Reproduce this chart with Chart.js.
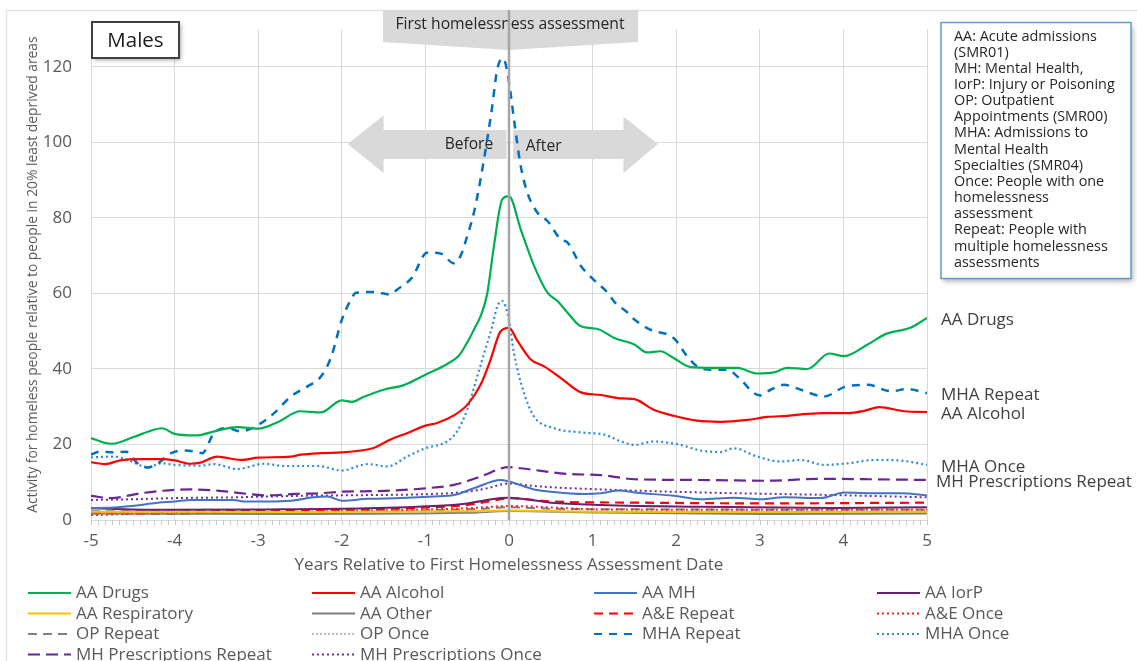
<!DOCTYPE html>
<html lang="en">
<head>
<meta charset="utf-8">
<title>Males - activity relative to 20% least deprived areas</title>
<script src="https://cdn.jsdelivr.net/npm/chart.js@4.4.1/dist/chart.umd.min.js"></script>
<style>
    html, body { margin: 0; padding: 0; background: #ffffff; }
    #grafico { display: block; }
</style>
</head>
<body>
<canvas id="grafico" width="1137" height="661"></canvas>
<script>
// ============================================
// DATA (years relative to first assessment, activity ratio)
// ============================================
const yTicks = [0, 20, 40, 60, 80, 100, 120];
const xTicks = [-5, -4, -3, -2, -1, 0, 1, 2, 3, 4, 5];

const drugsX = [-5, -4.83, -4.75, -4.5, -4.25, -4.15, -4, -3.75, -3.5, -3.25, -3, -2.75, -2.5, -2.25, -2, -1.875, -1.75, -1.5, -1.25, -1, -0.75, -0.6, -0.48, -0.42, -0.34, -0.26, -0.18, -0.08, 0, 0.14, 0.3, 0.46, 0.58, 0.7, 0.86, 1.06, 1.26, 1.5, 1.65, 1.81, 1.97, 2.17, 2.45, 2.73, 2.97, 3.17, 3.33, 3.57, 3.83, 4.01, 4.29, 4.51, 4.8, 5];
const drugsY = [21.7, 20.4, 20.2, 21.9, 23.9, 24.3, 22.8, 22.4, 23.6, 24.6, 24.2, 26.1, 28.8, 28.5, 31.7, 31.3, 32.5, 34.5, 35.8, 38.5, 41.2, 43.5, 47.8, 50.4, 54, 60, 72.6, 85, 85.8, 77, 67.3, 60.2, 58, 54.9, 51.3, 50.6, 48.2, 46.5, 44.4, 44.7, 42.9, 40.5, 40.3, 40.3, 38.8, 39.1, 40.3, 40, 44.1, 43.4, 46.5, 49.3, 50.9, 53.5];

const alcoholX = [-5, -4.83, -4.65, -4.4, -4.16, -4, -3.81, -3.69, -3.49, -3.21, -3, -2.61, -2.49, -2.25, -2, -1.77, -1.63, -1.41, -1.22, -1, -0.86, -0.66, -0.5, -0.34, -0.22, -0.1, 0, 0.1, 0.26, 0.42, 0.62, 0.86, 1.1, 1.3, 1.5, 1.73, 1.97, 2.25, 2.53, 2.85, 3.09, 3.33, 3.57, 3.77, 4.05, 4.25, 4.43, 4.73, 5];
const alcoholY = [15.3, 14.8, 15.8, 16.1, 16.1, 15.8, 14.9, 15.2, 16.8, 15.9, 16.5, 16.8, 17.3, 17.7, 17.9, 18.4, 19, 21.4, 23, 25, 25.7, 27.7, 30.5, 35.8, 42.5, 50, 50.9, 47.5, 42.5, 40.7, 37.6, 33.8, 33.1, 32.3, 32, 29.2, 27.6, 26.3, 26, 26.5, 27.3, 27.6, 28.1, 28.3, 28.3, 28.9, 29.9, 28.8, 28.6];

const aaMhX = [-5, -4.68, -4.4, -4.2, -4, -3.8, -3.29, -3.17, -2.89, -2.61, -2.33, -2.17, -2, -1.69, -1.29, -0.9, -0.66, -0.42, -0.1, 0, 0.3, 0.5, 0.9, 1.1, 1.32, 1.5, 1.97, 2.29, 2.69, 3.01, 3.29, 3.73, 4.01, 4.29, 4.69, 5];
const aaMhY = [3.1, 3.4, 4, 4.6, 4.9, 5.3, 5.3, 4.9, 4.9, 5.1, 6, 6.2, 5.1, 5.6, 5.8, 6.2, 6.6, 8.4, 10.6, 10.2, 8.1, 7.5, 6.9, 7.1, 7.8, 7.3, 6.4, 5.5, 5.9, 5.5, 6, 5.8, 7.3, 7.1, 7.1, 6.5];

const iorpX = [-5, -4.1, -2.9, -1.7, -0.9, -0.5, -0.1, 0, 0.5, 1.1, 2.29, 3.89, 5];
const iorpY = [3.1, 2.7, 2.8, 3.1, 3.7, 4.4, 5.8, 5.9, 4.6, 4, 3.5, 3.2, 3.4];

const respX = [-5, -2.5, -0.5, 0, 1, 3, 5];
const respY = [2.2, 2.1, 2.3, 2.5, 2.2, 2.1, 2.2];

const otherX = [-5, -2.5, -0.5, 0, 1, 3, 5];
const otherY = [1.7, 1.6, 1.9, 2.4, 2, 1.6, 1.7];

const aeRepeatX = [-5, -4, -3.3, -2.1, -1.3, -0.5, -0.1, 0, 0.5, 1.5, 3.1, 5];
const aeRepeatY = [1.8, 1.6, 2.5, 2.7, 3.1, 4, 5.5, 5.8, 4.9, 4.6, 4.4, 4.6];

const aeOnceX = [-5, -4.1, -2.9, -1.7, -0.5, 0, 1.1, 3.1, 5];
const aeOnceY = [1.3, 1.8, 2.1, 2.5, 3.1, 3.7, 2.8, 2.7, 2.7];

const opRepeatX = [-5, -3, -1, -0.3, 0, 0.5, 2, 4, 5];
const opRepeatY = [2.3, 2.4, 2.6, 3, 3.4, 3, 2.8, 2.7, 2.7];

const opOnceX = [-5, -2.5, 0, 2.5, 5];
const opOnceY = [1.9, 2, 2.4, 2.1, 2];

const mhaRepeatX = [-5, -4.89, -4.72, -4.58, -4.44, -4.32, -4.2, -4.04, -3.88, -3.76, -3.67, -3.53, -3.37, -3.21, -3, -2.81, -2.61, -2.41, -2.25, -2.13, -2, -1.9, -1.83, -1.61, -1.42, -1.34, -1.16, -0.98, -0.82, -0.66, -0.58, -0.5, -0.42, -0.34, -0.26, -0.2, -0.14, -0.07, 0, 0.06, 0.14, 0.22, 0.34, 0.46, 0.62, 0.7, 0.86, 1.02, 1.18, 1.26, 1.42, 1.5, 1.69, 1.97, 2.13, 2.25, 2.45, 2.61, 2.77, 2.93, 3.01, 3.13, 3.29, 3.49, 3.77, 4.01, 4.29, 4.57, 4.76, 5];
const mhaRepeatY = [17.3, 18.1, 17.9, 18.1, 15, 13.9, 15, 17.7, 18.4, 18.1, 17.7, 23, 24.3, 23.5, 25.2, 28.3, 32.7, 35.4, 38, 43, 53, 58, 60.2, 60.4, 59.7, 61, 64.2, 70.8, 70.6, 68, 69.9, 75.2, 81.4, 90.3, 100.9, 109.7, 119.5, 122.3, 116, 106, 93.8, 86.7, 81.4, 79.2, 74.3, 73.5, 67.3, 63.5, 60.2, 57.8, 54.9, 53.1, 50.4, 48.2, 43.4, 40.7, 39.8, 39.8, 37.2, 33.6, 33, 34.5, 35.8, 34.5, 32.7, 35.2, 35.8, 34.1, 34.7, 33.6];

const mhaOnceX = [-5, -4.72, -4.56, -4.32, -4.16, -4, -3.69, -3.53, -3.25, -2.93, -2.69, -2.29, -2, -1.69, -1.45, -1.22, -1, -0.74, -0.62, -0.5, -0.38, -0.26, -0.2, -0.14, -0.08, 0, 0.06, 0.18, 0.3, 0.54, 0.86, 1.14, 1.34, 1.5, 1.73, 2.05, 2.29, 2.53, 2.69, 2.97, 3.25, 3.49, 3.77, 4.05, 4.37, 4.65, 5];
const mhaOnceY = [16.6, 16.8, 15.9, 14, 15, 14.6, 14.4, 14.8, 13.5, 14.9, 14.3, 14.3, 13.1, 14.8, 14.2, 16.8, 19, 20.8, 23.5, 29.2, 38, 46.9, 51.3, 56.6, 58, 53, 44.2, 33.6, 27.4, 24.3, 23.2, 22.6, 20.8, 19.9, 20.8, 19.9, 18.4, 18, 19, 16.8, 15.5, 15.9, 14.6, 15, 15.9, 15.8, 14.6];

const presRepeatX = [-5, -4.76, -4.4, -4, -3.81, -3.49, -3.21, -2.89, -2.57, -2.25, -2, -1.49, -1, -0.66, -0.34, 0, 0.14, 0.7, 1.1, 1.5, 2.29, 3.09, 3.69, 4.29, 5];
const presRepeatY = [6.4, 5.8, 7.1, 8, 8.1, 7.8, 7.1, 6.5, 6.9, 7.1, 7.5, 7.7, 8.4, 9.3, 11.5, 14, 13.7, 12.2, 11.9, 10.8, 10.6, 10.4, 10.9, 10.8, 10.6];

const presOnceX = [-5, -4.5, -4, -3.29, -2.5, -1.69, -0.9, -0.5, -0.26, 0, 0.3, 1.1, 2.29, 3.89, 5];
const presOnceY = [5.3, 5.5, 5.8, 6, 6.4, 6.6, 6.9, 7.5, 8.4, 9.7, 9, 8.1, 7.3, 6.6, 6];

const noteLines = [
    'AA: Acute admissions', '(SMR01)', 'MH: Mental Health,', 'IorP: Injury or Poisoning',
    'OP: Outpatient', 'Appointments (SMR00)', 'MHA: Admissions to', 'Mental Health',
    'Specialties (SMR04)', 'Once: People with one', 'homelessness', 'assessment',
    'Repeat: People with', 'multiple homelessness', 'assessments'
];

// ============================================
// CHART
// ============================================
const FONT = "'Open Sans', 'DejaVu Sans', sans-serif";
const TEXT_GREY = '#595959';

const GraficoMales = {
    chart: null,

    series() {
        const pts = (xs, ys) => xs.map((x, i) => ({ x, y: ys[i] }));
        // label, points, colour, dash, width, end label offset
        return [
            { label: 'AA Drugs', data: pts(drugsX, drugsY), color: '#00b050', dash: [], width: 2.2, end: 14 },
            { label: 'AA Alcohol', data: pts(alcoholX, alcoholY), color: '#ff0000', dash: [], width: 2.2, end: 14 },
            { label: 'AA MH', data: pts(aaMhX, aaMhY), color: '#4472c4', dash: [], width: 2 },
            { label: 'AA IorP', data: pts(iorpX, iorpY), color: '#6a1f72', dash: [], width: 2 },
            { label: 'AA Respiratory', data: pts(respX, respY), color: '#ffc000', dash: [], width: 2 },
            { label: 'AA Other', data: pts(otherX, otherY), color: '#7f7f7f', dash: [], width: 2 },
            { label: 'A&E Repeat', data: pts(aeRepeatX, aeRepeatY), color: '#ff0000', dash: [9, 6], width: 2.2 },
            { label: 'A&E Once', data: pts(aeOnceX, aeOnceY), color: '#ff2020', dash: [2, 3], width: 2 },
            { label: 'OP Repeat', data: pts(opRepeatX, opRepeatY), color: '#7f7f7f', dash: [9, 6], width: 2 },
            { label: 'OP Once', data: pts(opOnceX, opOnceY), color: '#a6a6a6', dash: [2, 2], width: 1.5 },
            { label: 'MHA Repeat', data: pts(mhaRepeatX, mhaRepeatY), color: '#0070c0', dash: [8, 7], width: 2.5, end: 14 },
            { label: 'MHA Once', data: pts(mhaOnceX, mhaOnceY), color: '#2e8bd8', dash: [2, 3], width: 2.2, end: 14 },
            { label: 'MH Prescriptions Repeat', data: pts(presRepeatX, presRepeatY), color: '#6a2596', dash: [12, 6], width: 2.2, end: 9 },
            { label: 'MH Prescriptions Once', data: pts(presOnceX, presOnceY), color: '#7030a0', dash: [2, 3], width: 2 }
        ];
    },

    init() {
        const ctx = document.getElementById('grafico').getContext('2d');
        const datasets = this.series().map(s => ({
            label: s.label,
            data: s.data,
            borderColor: s.color,
            backgroundColor: s.color,
            borderDash: s.dash,
            borderWidth: s.width,
            endOffset: s.end,
            pointRadius: 0,
            fill: false,
            cubicInterpolationMode: 'monotone'
        }));

        this.chart = new Chart(ctx, {
            type: 'line',
            data: { datasets },
            options: {
                responsive: false,
                animation: false,
                devicePixelRatio: 1,
                layout: { padding: { left: 0, top: 29, right: 210, bottom: 80 } },
                plugins: {
                    legend: { display: false },
                    tooltip: { enabled: false }
                },
                scales: {
                    x: {
                        type: 'linear',
                        min: xTicks[0],
                        max: xTicks[xTicks.length - 1],
                        afterFit: (scale) => { scale.height = 61; },
                        afterBuildTicks: (scale) => { scale.ticks = xTicks.map(v => ({ value: v })); },
                        grid: { color: '#d9d9d9', drawTicks: false },
                        border: { color: '#d9d9d9' },
                        ticks: { color: TEXT_GREY, font: { family: FONT, size: 17 }, padding: 11 },
                        title: {
                            display: true,
                            text: 'Years Relative to First Homelessness Assessment Date',
                            color: TEXT_GREY,
                            font: { family: FONT, size: 17 },
                            padding: { top: 0, bottom: 6 }
                        }
                    },
                    y: {
                        min: 0,
                        max: 130,
                        afterFit: (scale) => { scale.width = 91; },
                        afterBuildTicks: (scale) => { scale.ticks = yTicks.map(v => ({ value: v })); },
                        grid: { color: '#d9d9d9', drawTicks: false },
                        border: { color: '#d9d9d9' },
                        ticks: { color: TEXT_GREY, font: { family: FONT, size: 17 }, padding: 19 },
                        title: {
                            display: true,
                            text: 'Activity for homeless people relative to people in 20% least deprived areas',
                            color: TEXT_GREY,
                            font: { family: FONT, size: 13.8 },
                            padding: { top: 25, bottom: 0 }
                        }
                    }
                }
            },
            plugins: [this.decoracoesFundo, this.decoracoesFrente]
        });
    },

    // arrows, frame and minor ticks under the lines
    decoracoesFundo: {
        id: 'decoracoesFundo',
        beforeDraw(chart) {
            const c = chart.ctx;
            c.save();
            c.fillStyle = '#ffffff';
            c.fillRect(0, 0, chart.width, chart.height);
            c.strokeStyle = '#e3e3e3';
            c.lineWidth = 1.5;
            c.beginPath();
            c.moveTo(6.5, chart.height);
            c.lineTo(6.5, 10.5);
            c.lineTo(chart.width, 10.5);
            c.stroke();
            c.restore();
        },
        beforeDatasetsDraw(chart) {
            const c = chart.ctx;
            const xs = chart.scales.x, ys = chart.scales.y;
            const X = v => xs.getPixelForValue(v);
            const Y = v => ys.getPixelForValue(v);

            c.save();
            // monthly minor ticks
            c.strokeStyle = '#c8c8c8';
            c.lineWidth = 1;
            for (let m = 0; m <= 120; m++) {
                const px = Math.round(X(-5 + m / 12)) + 0.5;
                c.beginPath();
                c.moveTo(px, ys.bottom);
                c.lineTo(px, ys.bottom + 5);
                c.stroke();
            }

            // before / after arrows
            c.fillStyle = '#d9d9d9';
            c.beginPath();
            c.moveTo(X(-1.93), Y(99.6));
            c.lineTo(X(-1.5), Y(107.2));
            c.lineTo(X(-1.5), Y(103.3));
            c.lineTo(X(-0.03), Y(103.3));
            c.lineTo(X(-0.03), Y(95.6));
            c.lineTo(X(-1.5), Y(95.6));
            c.lineTo(X(-1.5), Y(91.9));
            c.closePath();
            c.fill();

            c.beginPath();
            c.moveTo(X(1.78), Y(99.6));
            c.lineTo(X(1.37), Y(106.9));
            c.lineTo(X(1.37), Y(103.3));
            c.lineTo(X(0.05), Y(103.3));
            c.lineTo(X(0.05), Y(95.6));
            c.lineTo(X(1.37), Y(95.6));
            c.lineTo(X(1.37), Y(91.9));
            c.closePath();
            c.fill();

            c.fillStyle = '#262626';
            c.font = `15.6px ${FONT}`;
            c.textBaseline = 'middle';
            c.textAlign = 'left';
            c.fillText('Before', X(-0.77), Y(99.6) + 1);
            c.fillText('After', X(0.2), Y(99.3) + 1);
            c.restore();
        }
    },

    // reference line, banner, boxes, end labels and legend on top
    decoracoesFrente: {
        id: 'decoracoesFrente',
        afterDatasetsDraw(chart) {
            const c = chart.ctx;
            const xs = chart.scales.x, ys = chart.scales.y;
            const x0 = xs.getPixelForValue(0);

            c.save();
            // banner
            c.fillStyle = '#d9d9d9';
            c.beginPath();
            c.moveTo(383, 10);
            c.lineTo(638, 10);
            c.lineTo(638, 42);
            c.lineTo(x0, 50);
            c.lineTo(383, 42);
            c.closePath();
            c.fill();
            c.fillStyle = '#262626';
            c.font = `15.7px ${FONT}`;
            c.textAlign = 'center';
            c.textBaseline = 'middle';
            c.fillText('First homelessness assessment', 510, 25);

            // assessment date line
            c.strokeStyle = '#a6a6a6';
            c.lineWidth = 2.5;
            c.beginPath();
            c.moveTo(x0, 10);
            c.lineTo(x0, ys.bottom);
            c.stroke();

            // "Males" box
            c.save();
            c.shadowColor = 'rgba(0,0,0,0.35)';
            c.shadowBlur = 4;
            c.shadowOffsetX = 2;
            c.shadowOffsetY = 2;
            c.fillStyle = '#ffffff';
            c.fillRect(92, 22, 87, 36);
            c.restore();
            c.strokeStyle = '#404040';
            c.lineWidth = 2;
            c.strokeRect(92, 22, 87, 36);
            c.fillStyle = '#1a1a1a';
            c.font = `20.5px ${FONT}`;
            c.textAlign = 'center';
            c.fillText('Males', 135.5, 41);

            // note box
            c.save();
            c.shadowColor = 'rgba(0,0,0,0.3)';
            c.shadowBlur = 5;
            c.shadowOffsetX = 2;
            c.shadowOffsetY = 3;
            c.fillStyle = '#ffffff';
            c.fillRect(941, 22.5, 190, 256);
            c.restore();
            c.strokeStyle = '#5b9bd5';
            c.lineWidth = 1.5;
            c.strokeRect(941, 22.5, 190, 256);
            c.fillStyle = '#262626';
            c.font = `14.4px ${FONT}`;
            c.textAlign = 'left';
            noteLines.forEach((line, i) => c.fillText(line, 954, 36.5 + i * 16.15));

            // end-of-line labels
            c.fillStyle = '#404040';
            c.font = `17px ${FONT}`;
            chart.data.datasets.forEach(ds => {
                if (ds.endOffset === undefined) return;
                const last = ds.data[ds.data.length - 1];
                c.fillText(ds.label, xs.right + ds.endOffset, ys.getPixelForValue(last.y) + 2.5);
            });

            // legend, 4 columns
            const colLine = [28, 312, 594, 877];
            const rowY = [593, 613.5, 634, 654.5];
            c.font = `17px ${FONT}`;
            chart.data.datasets.forEach((ds, i) => {
                const lx = colLine[i % 4];
                const ly = rowY[Math.floor(i / 4)];
                c.strokeStyle = ds.borderColor;
                c.lineWidth = Math.min(ds.borderWidth, 2.2);
                c.setLineDash(ds.borderDash);
                c.beginPath();
                c.moveTo(lx, ly);
                c.lineTo(lx + 43, ly);
                c.stroke();
                c.setLineDash([]);
                c.fillStyle = TEXT_GREY;
                c.fillText(ds.label, lx + 48, ly + 0.5);
            });
            c.restore();
        }
    }
};

GraficoMales.init();
</script>
</body>
</html>
